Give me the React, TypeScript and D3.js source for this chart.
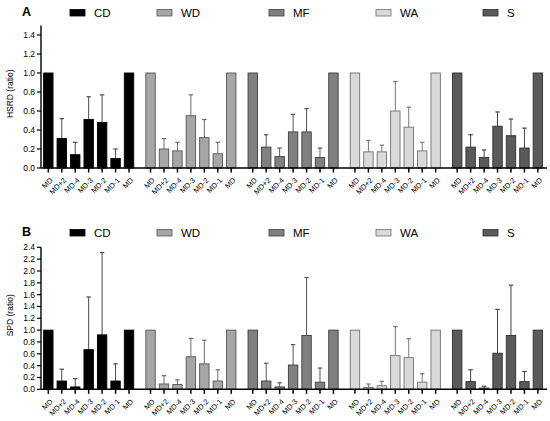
import * as d3 from "d3";

// training groups and the days of the microcycle
const groups = ["CD", "WD", "MF", "WA", "S"];
const days = ["MD", "MD+2", "MD-4", "MD-3", "MD-2", "MD-1", "MD"];

// HSRD ratio (mean) and top of the error bar (mean + SD)
const hsrdCD = [1.0, 0.31, 0.14, 0.51, 0.48, 0.1, 1.0];
const hsrdCDTop = [1.0, 0.52, 0.27, 0.75, 0.77, 0.2, 1.0];
const hsrdWD = [1.0, 0.2, 0.18, 0.55, 0.32, 0.15, 1.0];
const hsrdWDTop = [1.0, 0.31, 0.27, 0.77, 0.51, 0.27, 1.0];
const hsrdMF = [1.0, 0.22, 0.12, 0.38, 0.38, 0.11, 1.0];
const hsrdMFTop = [1.0, 0.35, 0.21, 0.565, 0.625, 0.21, 1.0];
const hsrdWA = [1.0, 0.17, 0.17, 0.6, 0.43, 0.18, 1.0];
const hsrdWATop = [1.0, 0.29, 0.24, 0.91, 0.64, 0.27, 1.0];
const hsrdS = [1.0, 0.22, 0.11, 0.44, 0.34, 0.21, 1.0];
const hsrdSTop = [1.0, 0.35, 0.19, 0.59, 0.515, 0.42, 1.0];

// SPD ratio (mean) and top of the error bar
const spdCD = [1.0, 0.14, 0.04, 0.67, 0.92, 0.14, 1.0];
const spdCDTop = [1.0, 0.34, 0.18, 1.56, 2.31, 0.43, 1.0];
const spdWD = [1.0, 0.09, 0.08, 0.55, 0.43, 0.14, 1.0];
const spdWDTop = [1.0, 0.23, 0.16, 0.86, 0.83, 0.33, 1.0];
const spdMF = [1.0, 0.14, 0.04, 0.41, 0.91, 0.12, 1.0];
const spdMFTop = [1.0, 0.44, 0.11, 0.755, 1.89, 0.36, 1.0];
const spdWA = [1.0, 0.03, 0.06, 0.57, 0.535, 0.12, 1.0];
const spdWATop = [1.0, 0.09, 0.135, 1.06, 0.855, 0.265, 1.0];
const spdS = [1.0, 0.13, 0.02, 0.61, 0.91, 0.13, 1.0];
const spdSTop = [1.0, 0.33, 0.05, 1.35, 1.76, 0.3, 1.0];

const hsrdTicks = [0, 0.2, 0.4, 0.6, 0.8, 1.0, 1.2, 1.4];
const spdTicks = [0, 0.2, 0.4, 0.6, 0.8, 1.0, 1.2, 1.4, 1.6, 1.8, 2.0, 2.2, 2.4];

const fills = ["#000000", "#a6a6a6", "#808080", "#d9d9d9", "#5a5a5a"];
const strokes = ["#000000", "#555555", "#3c3c3c", "#707070", "#2e2e2e"];
const errColors = ["#4a4a4a", "#6a6a6a", "#555555", "#777777", "#444444"];

const W = 550;
const H = 421;
const FONT = "'Liberation Sans', Arial, sans-serif";
const axisX = 41;
const legendX = [70, 157, 269, 376, 483];

const xGroup = d3
  .scaleBand<string>()
  .domain(groups)
  .range([41.6, 544.6])
  .paddingInner(0.079)
  .paddingOuter(0);

const xDay = d3
  .scaleBand<number>()
  .domain(d3.range(days.length))
  .range([0, xGroup.bandwidth()])
  .paddingInner(0.3)
  .paddingOuter(0.15);

interface PanelProps {
  letter: string;
  label: string;
  means: number[][];
  tops: number[][];
  ticks: number[];
  domainMax: number;
  y0: number;
  y1: number;
  legendY: number;
}

const Panel = ({ letter, label, means, tops, ticks, domainMax, y0, y1, legendY }: PanelProps) => {
  const y = d3.scaleLinear().domain([0, domainMax]).range([y0, y1]);
  const bw = xDay.bandwidth();

  return (
    <g>
      <text x={22} y={legendY + 6} fontSize={12.5} fontWeight="bold" fontFamily={FONT}>
        {letter}
      </text>
      {groups.map((g, gi) => (
        <g key={g} transform={`translate(${legendX[gi]},${legendY})`}>
          <rect x={0} y={0} width={15} height={6.5} fill={fills[gi]} stroke={strokes[gi]} strokeWidth={0.8} />
          <text x={24} y={7} fontSize={11.5} fontFamily={FONT}>
            {g}
          </text>
        </g>
      ))}

      {/* y axis */}
      <line x1={axisX} x2={axisX} y1={y(domainMax)} y2={y0} stroke="#000" strokeWidth={1.4} />
      {ticks.map((t) => (
        <g key={t}>
          <line x1={axisX - 4} x2={axisX} y1={y(t)} y2={y(t)} stroke="#000" strokeWidth={1.2} />
          <text x={axisX - 6} y={y(t)} dy="0.35em" textAnchor="end" fontSize={8.5} fontFamily={FONT}>
            {t.toFixed(1)}
          </text>
        </g>
      ))}
      <text
        transform={`translate(10,${(y0 + y(domainMax)) / 2 - 3}) rotate(-90)`}
        textAnchor="middle"
        dy="0.35em"
        fontSize={8.5}
        fontFamily={FONT}
      >
        {label}
      </text>

      {/* bars */}
      {groups.map((g, gi) => {
        const gx = xGroup(g) ?? 0;
        return (
          <g key={g} transform={`translate(${gx},0)`}>
            {days.map((d, di) => {
              const bx = xDay(di) ?? 0;
              const cx = bx + bw / 2;
              const v = means[gi][di];
              const top = tops[gi][di];
              return (
                <g key={di}>
                  {top > v && (
                    <g stroke={errColors[gi]} strokeWidth={1}>
                      <line x1={cx} x2={cx} y1={y(v)} y2={y(top)} />
                      <line x1={cx - 2.2} x2={cx + 2.2} y1={y(top)} y2={y(top)} strokeWidth={1.2} />
                    </g>
                  )}
                  <rect
                    x={bx}
                    y={y(v)}
                    width={bw}
                    height={y0 - y(v)}
                    fill={fills[gi]}
                    stroke={strokes[gi]}
                    strokeWidth={0.9}
                  />
                  <line x1={cx} x2={cx} y1={y0} y2={y0 + 4.5} stroke="#000" strokeWidth={1.5} />
                  <text
                    transform={`translate(${cx + 3},${y0 + 11}) rotate(-45)`}
                    textAnchor="end"
                    dy="0.35em"
                    fontSize={7.4}
                    fontFamily={FONT}
                  >
                    {d}
                  </text>
                </g>
              );
            })}
          </g>
        );
      })}

      {/* x axis */}
      <line x1={axisX} x2={547} y1={y0} y2={y0} stroke="#000" strokeWidth={1.4} />
    </g>
  );
};

export default function App() {
  const hsrdMeans = [hsrdCD, hsrdWD, hsrdMF, hsrdWA, hsrdS];
  const hsrdTops = [hsrdCDTop, hsrdWDTop, hsrdMFTop, hsrdWATop, hsrdSTop];
  const spdMeans = [spdCD, spdWD, spdMF, spdWA, spdS];
  const spdTops = [spdCDTop, spdWDTop, spdMFTop, spdWATop, spdSTop];

  return (
    <svg
      width={W}
      height={H}
      style={{ position: "absolute", left: 0, top: 0, background: "#fff" }}
    >
      <Panel
        letter="A"
        label="HSRD (ratio)"
        means={hsrdMeans}
        tops={hsrdTops}
        ticks={hsrdTicks}
        domainMax={1.5}
        y0={168}
        y1={25.5}
        legendY={9.5}
      />
      <Panel
        letter="B"
        label="SPD (ratio)"
        means={spdMeans}
        tops={spdTops}
        ticks={spdTicks}
        domainMax={2.4}
        y0={389.3}
        y1={247.3}
        legendY={229.5}
      />
    </svg>
  );
}
